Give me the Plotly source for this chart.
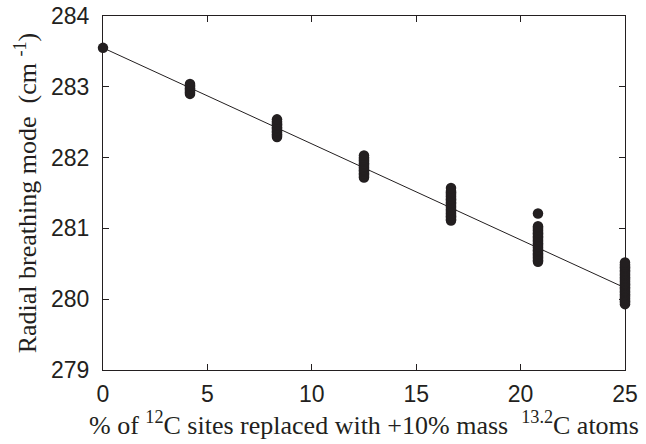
import plotly.graph_objects as go

# Data
col_x = [0, 4.1667, 8.3333, 12.5, 16.6667, 20.8333, 25]
col_y = [
    [283.55],
    [282.90, 282.92, 282.94, 282.96, 282.98, 283.00, 283.02, 283.04],
    [282.29, 282.31, 282.33, 282.35, 282.37, 282.39, 282.41, 282.43,
     282.45, 282.47, 282.49, 282.51, 282.54],
    [281.72, 281.74, 281.76, 281.78, 281.80, 281.82, 281.84, 281.86,
     281.88, 281.90, 281.92, 281.94, 281.96, 281.98, 282.00, 282.03],
    [281.11, 281.13, 281.15, 281.17, 281.19, 281.21, 281.23, 281.25,
     281.27, 281.29, 281.31, 281.33, 281.35, 281.37, 281.39, 281.41,
     281.43, 281.45, 281.47, 281.49, 281.51, 281.53, 281.57],
    [280.53, 280.55, 280.57, 280.59, 280.61, 280.63, 280.65, 280.67,
     280.69, 280.71, 280.73, 280.75, 280.77, 280.79, 280.81, 280.83,
     280.85, 280.87, 280.89, 280.91, 280.93, 280.95, 280.97, 280.99,
     281.01, 281.03, 281.21],
    [279.93, 279.95, 279.97, 279.99, 280.01, 280.03, 280.05, 280.07,
     280.09, 280.11, 280.13, 280.15, 280.17, 280.19, 280.21, 280.23,
     280.25, 280.27, 280.29, 280.31, 280.33, 280.35, 280.37, 280.39,
     280.41, 280.43, 280.45, 280.47, 280.49, 280.52],
]
fit_x = [0, 25]
fit_y = [283.55, 280.16]

x_ticks = [0, 5, 10, 15, 20, 25]
y_ticks = [279, 280, 281, 282, 283, 284]

pts_x, pts_y = [], []
for cx, ys in zip(col_x, col_y):
    pts_x += [cx] * len(ys)
    pts_y += ys

ink = "#231f20"
fig = go.Figure()
fig.add_trace(go.Scatter(x=fit_x, y=fit_y, mode="lines",
                         line=dict(color=ink, width=1),
                         cliponaxis=False, showlegend=False))
fig.add_trace(go.Scatter(x=pts_x, y=pts_y, mode="markers",
                         marker=dict(color=ink, size=10.5, line=dict(width=0)),
                         cliponaxis=False, showlegend=False))

axis_common = dict(showgrid=False, zeroline=False, showline=True,
                   linecolor=ink, linewidth=1, mirror="ticks",
                   ticks="inside", ticklen=6, tickcolor=ink, tickwidth=1,
                   automargin=False,
                   tickfont=dict(family="Liberation Sans, Arial", size=23, color=ink))

serif = "Liberation Serif, Times New Roman"
fig.update_layout(
    width=646, height=444,
    margin=dict(l=103, r=21, t=16, b=74),
    paper_bgcolor="white", plot_bgcolor="white",
    xaxis=dict(range=[0, 25], tickvals=x_ticks, ticklabelstandoff=3,
               title=dict(text="% of <sup>12</sup>C sites replaced with +10% mass  <sup>13.2</sup>C atoms",
                          font=dict(family=serif, size=26, color=ink),
                          standoff=4),
               **axis_common),
    yaxis=dict(range=[279, 284], tickvals=y_ticks, ticklabelstandoff=8,
               title=dict(text="Radial breathing mode  (cm <sup>-1</sup>)",
                          font=dict(family=serif, size=26, color=ink),
                          standoff=6),
               **axis_common),
)

fig.write_html("out.html", config={"displayModeBar": False},
               post_script="document.body.style.margin='0';")
